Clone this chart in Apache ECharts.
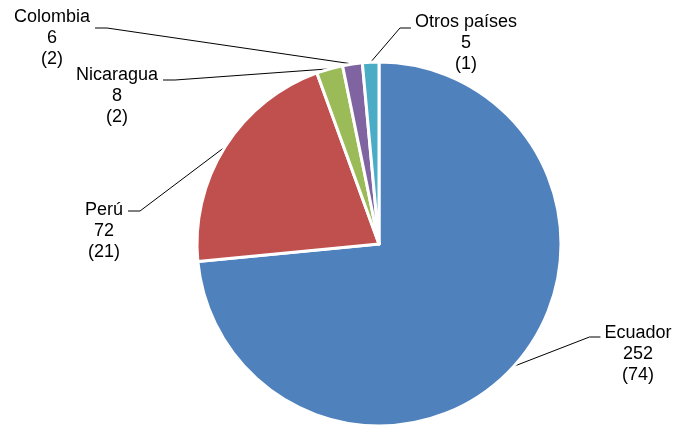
<!DOCTYPE html>
<html>
<head>
<meta charset="utf-8">
<script src="https://cdn.jsdelivr.net/npm/echarts@6/dist/echarts.min.js"></script>
<style>
  html, body { margin: 0; padding: 0; background: #fff; }
  #chart { width: 676px; height: 426px; }
</style>
</head>
<body>
<div id="chart"></div>
<script>
const countries = ['Ecuador', 'Perú', 'Nicaragua', 'Colombia', 'Otros países'];
const counts = [252, 72, 8, 6, 5];
const percents = [74, 21, 2, 2, 1];
const colors = ['#4F81BD', '#C0504D', '#9BBB59', '#8064A2', '#4BACC6'];

// label block centre, plus vertical offset of the leader hook from that centre
const labelPos = [
  [638, 354, -17],
  [104, 231, -20],
  [117, 96, -16],
  [52, 38, -10],
  [466, 43, -15]
];

const chart = echarts.init(document.getElementById('chart'));
const option = {
  animation: false,
  series: [{
    type: 'pie',
    center: [379, 244],
    radius: 182,
    startAngle: 90,
    clockwise: true,
    itemStyle: { borderColor: '#fff', borderWidth: 3 },
    data: countries.map((name, i) => ({
      name: name,
      value: counts[i],
      itemStyle: { color: colors[i] }
    })),
    label: {
      show: true,
      formatter: p => p.name + '\n' + p.value + '\n(' + percents[p.dataIndex] + ')',
      fontFamily: 'Liberation Sans, Arial, sans-serif',
      fontSize: 18,
      lineHeight: 21,
      color: '#000',
      align: 'center'
    },
    labelLine: {
      show: true,
      length: 20,
      length2: 20,
      lineStyle: { color: '#000', width: 1 }
    },
    labelLayout: p => {
      const [x, y, dy] = labelPos[p.dataIndex];
      const anchor = p.labelLinePoints ? p.labelLinePoints[0] : [x, y];
      const half = p.labelRect.width / 2;
      const hookY = y + dy;
      const onRight = x > 379;
      const end = onRight ? x - half - 4 : x + half + 5;
      const bend = onRight ? end - 11 : end + 12;
      return {
        x: x,
        y: y,
        align: 'center',
        verticalAlign: 'middle',
        labelLinePoints: [anchor, [bend, hookY], [end, hookY]]
      };
    }
  }]
};
chart.setOption(option);
window.addEventListener('resize', () => chart.resize());
</script>
</body>
</html>
